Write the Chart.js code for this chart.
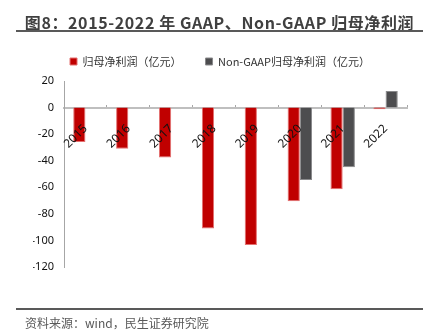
<!DOCTYPE html>
<html>
<head>
<meta charset="utf-8">
<script src="https://cdn.jsdelivr.net/npm/chart.js@4/dist/chart.umd.min.js"></script>
<style>
  html, body { margin: 0; padding: 0; background: #fff; }
  #wrap { position: relative; width: 435px; height: 331px; overflow: hidden; }
  #chart { position: absolute; left: 0; top: 0; }
  .title {
    position: absolute; left: 16px; width: 407px; top: 10px; text-align: center;
    font: bold 16px "Noto Sans CJK SC", "Noto Sans", sans-serif; color: #404040;
    letter-spacing: 0.6px;
  }
  .rule { position: absolute; left: 16px; width: 407px; background: #595959; }
  .source {
    position: absolute; left: 25px; top: 314px;
    font: 12px "Noto Sans CJK SC", "Noto Sans", sans-serif; color: #595959;
  }
</style>
</head>
<body>
<div id="wrap">
  <canvas id="chart" width="435" height="331"></canvas>
  <div class="title">图8：2015-2022 年 GAAP、Non-GAAP 归母净利润</div>
  <div class="rule" style="top:30px;height:2px;"></div>
  <div class="rule" style="top:308px;height:2px;"></div>
  <div class="source">资料来源：wind，民生证券研究院</div>
</div>
<script>
// Data
const years = ['2015', '2016', '2017', '2018', '2019', '2020', '2021', '2022'];
const gaapProfit = [-26, -31, -37.5, -91, -103.5, -70.5, -61.5, -1.2];
const nonGaapProfit = [null, null, null, null, null, -54.5, -45, 12.5];
const yTicks = [20, 0, -20, -40, -60, -80, -100, -120];

const fontFamily = '"Noto Sans", "Noto Sans CJK SC", sans-serif';

// a bit more room between the legend and the plot
const legendGap = {
    id: 'legendGap',
    beforeLayout(chart) {
        const legend = chart.legend;
        if (legend && !legend._gapPatched) {
            const fit = legend.fit;
            legend.fit = function () {
                fit.call(this);
                this.height += 4;
            };
            legend._gapPatched = true;
        }
    }
};

const ctx = document.getElementById('chart').getContext('2d');
const chart = new Chart(ctx, {
    type: 'bar',
    data: {
        labels: years,
        datasets: [{
            label: '归母净利润（亿元）',
            data: gaapProfit,
            backgroundColor: '#C00000',
            borderColor: '#E47070',
            borderWidth: 1
        }, {
            label: 'Non-GAAP归母净利润（亿元）',
            data: nonGaapProfit,
            backgroundColor: '#4D4D4F',
            borderColor: '#8A8A8C',
            borderWidth: 1
        }]
    },
    options: {
        responsive: false,
        animation: false,
        layout: {
            padding: { left: 33, right: 28, top: 32, bottom: 64 }
        },
        datasets: {
            bar: { categoryPercentage: 0.57, barPercentage: 1.0 }
        },
        plugins: {
            tooltip: { enabled: false },
            legend: {
                position: 'top',
                labels: {
                    boxWidth: 7,
                    boxHeight: 7,
                    padding: 24,
                    color: '#333',
                    font: { family: '"Noto Sans CJK SC", sans-serif', size: 11 }
                }
            }
        },
        scales: {
            x: {
                position: { y: 0 },
                grid: {
                    offset: true,
                    drawOnChartArea: false,
                    tickLength: -4,
                    color: '#A6A6A6'
                },
                border: { color: '#BFBFBF', width: 2 },
                ticks: {
                    z: 1,
                    minRotation: 45,
                    maxRotation: 45,
                    padding: 18,
                    color: '#111',
                    font: { family: fontFamily, size: 12 }
                },
                afterFit: (scale) => { scale.height = 0; }
            },
            y: {
                min: -120,
                max: 20,
                grid: { display: false, drawTicks: false },
                border: { color: '#A6A6A6', width: 1 },
                afterBuildTicks: (scale) => {
                    scale.ticks = yTicks.map(v => ({ value: v }));
                },
                ticks: {
                    padding: 10,
                    color: '#111',
                    font: { family: fontFamily, size: 11 }
                },
                afterFit: (scale) => { scale.width = 31; }
            }
        }
    },
    plugins: [legendGap]
});
</script>
</body>
</html>
